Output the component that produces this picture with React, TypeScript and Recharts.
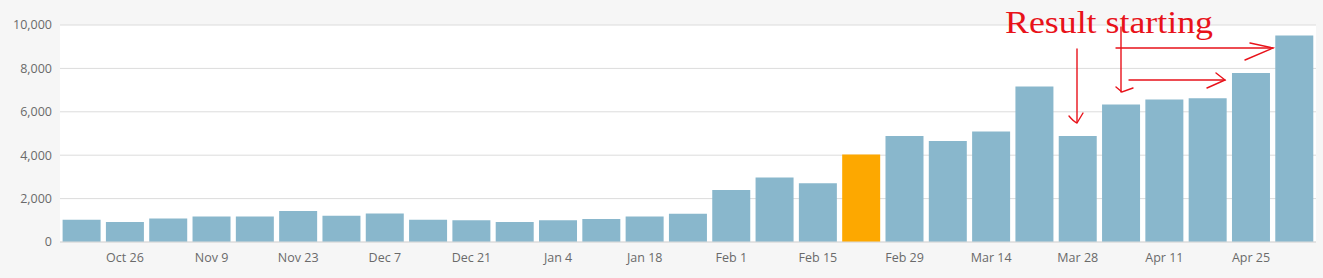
import { BarChart, Bar, Cell, CartesianGrid, XAxis, YAxis } from "recharts";

// weekly views, one bar per week
const weeks = [
  "Oct 19", "Oct 26", "Nov 2", "Nov 9", "Nov 16", "Nov 23", "Nov 30", "Dec 7",
  "Dec 14", "Dec 21", "Dec 28", "Jan 4", "Jan 11", "Jan 18", "Jan 25", "Feb 1",
  "Feb 8", "Feb 15", "Feb 22", "Feb 29", "Mar 7", "Mar 14", "Mar 21", "Mar 28",
  "Apr 4", "Apr 11", "Apr 18", "Apr 25", "May 2",
];
const views = [
  1030, 920, 1080, 1180, 1180, 1430, 1210, 1310, 1030, 1000, 920, 1000, 1060,
  1180, 1300, 2400, 2970, 2710, 4030, 4890, 4650, 5090, 7170, 4890, 6340, 6570,
  6620, 7790, 9520,
];
const highlightWeek = "Feb 22";
const yTicks = [0, 2000, 4000, 6000, 8000, 10000];
const xTickLabels = [
  "Oct 26", "Nov 9", "Nov 23", "Dec 7", "Dec 21", "Jan 4", "Jan 18",
  "Feb 1", "Feb 15", "Feb 29", "Mar 14", "Mar 28", "Apr 11", "Apr 25",
];
const annotationText = "Result starting";

const data = weeks.map((week, i) => ({ week, views: views[i] }));

const W = 1323;
const H = 278;

function Annotation() {
  // hand-drawn red marks over the chart
  const red = "#e8121a";
  return (
    <svg
      width={W}
      height={H}
      style={{ position: "absolute", left: 0, top: 0, pointerEvents: "none" }}
    >
      <text
        x={1005}
        y={33}
        fill={red}
        fontFamily="'Liberation Serif', 'DejaVu Serif', serif"
        fontSize={31}
        textLength={208}
        lengthAdjust="spacingAndGlyphs"
      >
        {annotationText}
      </text>
      <g stroke={red} strokeWidth={1.4} fill="none" strokeLinecap="round">
        <path d="M1077,49 L1077,122" />
        <path d="M1069,116 Q1074,122 1077,123 L1083,113" />
        <path d="M1121,27 L1121,92" />
        <path d="M1116,87 L1122,92 L1133,88" />
        <path d="M1116,48 L1273,48" />
        <path d="M1250,43 L1273,48 L1245,60" />
        <path d="M1129,80 L1225,80" />
        <path d="M1216,73 L1225,80 L1207,88" />
      </g>
    </svg>
  );
}

export default function App() {
  return (
    <div
      style={{
        position: "absolute",
        left: 0,
        top: 0,
        width: W,
        height: H,
        background: "#f6f6f6",
        fontFamily: "'Open Sans', sans-serif",
      }}
    >
      <BarChart
        width={W}
        height={H}
        data={data}
        margin={{ top: 25, right: 7, bottom: 0, left: 0 }}
        barCategoryGap="6%"
      >
        <CartesianGrid vertical={false} stroke="#dcdcdc" fill="#ffffff" />
        <XAxis
          dataKey="week"
          interval={0}
          tickLine={false}
          axisLine={{ stroke: "#dcdcdc" }}
          height={36}
          tick={{ fill: "#6a6a6a", fontSize: 12.5, dy: 3 }}
          tickFormatter={(v: string) => (xTickLabels.includes(v) ? v : "")}
        />
        <YAxis
          width={60}
          domain={[0, 10000]}
          ticks={yTicks}
          tickLine={false}
          axisLine={false}
          tick={{ fill: "#6a6a6a", fontSize: 12.5 }}
          tickFormatter={(v: number) => v.toLocaleString("en-US")}
        />
        <Bar dataKey="views" isAnimationActive={false}>
          {data.map((d) => (
            <Cell
              key={d.week}
              fill={d.week === highlightWeek ? "#fda800" : "#89b7cc"}
            />
          ))}
        </Bar>
      </BarChart>
      <Annotation />
    </div>
  );
}
